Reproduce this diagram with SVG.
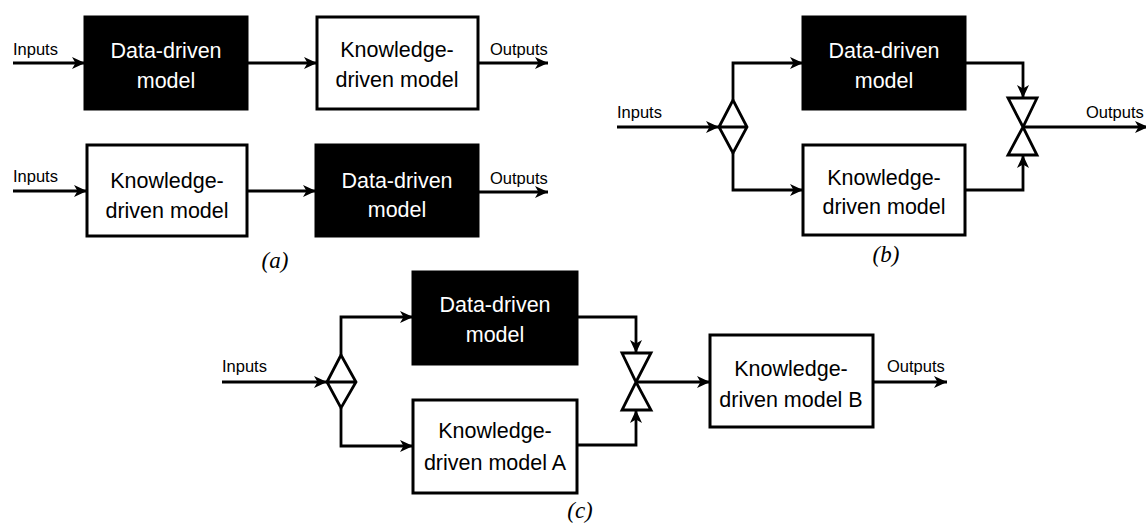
<svg xmlns="http://www.w3.org/2000/svg" width="1146" height="523" viewBox="0 0 1146 523">
<style>
.bg{fill:#fff}
.dk{fill:#000;stroke:#000;stroke-width:3}
.wt{fill:#fff;stroke:#000;stroke-width:3}
.ln{fill:none;stroke:#000;stroke-width:2.8}
.jn{fill:#fff;stroke:#000;stroke-width:2.8;stroke-linejoin:miter}
.tw{font-family:"Liberation Sans",Arial,sans-serif;font-size:21.5px;fill:#fff;text-anchor:middle}
.tb{font-family:"Liberation Sans",Arial,sans-serif;font-size:21.5px;fill:#000;text-anchor:middle}
.lb{font-family:"Liberation Sans",Arial,sans-serif;font-size:16.5px;fill:#000}
.cap{font-family:"Liberation Serif","Times New Roman",serif;font-style:italic;font-size:23px;fill:#000;text-anchor:middle}
</style>
<defs>
<marker id="ah" markerUnits="userSpaceOnUse" markerWidth="14" markerHeight="12" refX="13" refY="6" orient="auto">
<path d="M0,0 L13,6 L0,12 L3.5,6 Z" fill="#000"/>
</marker>
</defs>
<rect class="bg" x="0" y="0" width="1146" height="523"/>

<g id="connectors">
<path class="ln" d="M13,63 H85" marker-end="url(#ah)"/>
<path class="ln" d="M247,63 H317" marker-end="url(#ah)"/>
<path class="ln" d="M478,63 H548" marker-end="url(#ah)"/>
<path class="ln" d="M13,191 H87" marker-end="url(#ah)"/>
<path class="ln" d="M247,191 H316" marker-end="url(#ah)"/>
<path class="ln" d="M478,192 H548" marker-end="url(#ah)"/>
<path class="ln" d="M617,127 H719" marker-end="url(#ah)"/>
<path class="ln" d="M733,100 V63 H803" marker-end="url(#ah)"/>
<path class="ln" d="M733,153 V190 H803" marker-end="url(#ah)"/>
<path class="ln" d="M965,63 H1023 V98" marker-end="url(#ah)"/>
<path class="ln" d="M965,190 H1023 V155" marker-end="url(#ah)"/>
<path class="ln" d="M1023,127 H1148" marker-end="url(#ah)"/>
<path class="ln" d="M222,382 H327" marker-end="url(#ah)"/>
<path class="ln" d="M341,355 V317 H413" marker-end="url(#ah)"/>
<path class="ln" d="M341,408 V446 H413" marker-end="url(#ah)"/>
<path class="ln" d="M577,317 H636 V353" marker-end="url(#ah)"/>
<path class="ln" d="M577,445 H636 V410" marker-end="url(#ah)"/>
<path class="ln" d="M636,382 H710" marker-end="url(#ah)"/>
<path class="ln" d="M873,382 H947" marker-end="url(#ah)"/>
</g>

<g id="split-b">
<path class="jn" d="M719,127 L733,100 L747,127 L733,153 Z M719,127 H747"/>
</g>
<g id="merge-b">
<path class="jn" d="M1008,98 H1037 L1023,127 Z M1008,155 H1037 L1023,127 Z"/>
</g>
<g id="split-c">
<path class="jn" d="M327,382 L341,355 L356,382 L341,408 Z M327,382 H356"/>
</g>
<g id="merge-c">
<path class="jn" d="M622,353 H651 L636,382 Z M622,410 H651 L636,382 Z"/>
</g>

<g id="a-data1">
<rect class="dk" x="85" y="17" width="162" height="92"/>
<text class="tw" x="166" y="58">Data-driven</text>
<text class="tw" x="166" y="88">model</text>
</g>
<g id="a-know1">
<rect class="wt" x="317" y="17" width="161" height="92"/>
<text class="tb" x="397" y="57">Knowledge-</text>
<text class="tb" x="397" y="87">driven model</text>
</g>
<g id="a-know2">
<rect class="wt" x="87" y="145" width="160" height="91"/>
<text class="tb" x="167" y="188">Knowledge-</text>
<text class="tb" x="167" y="218">driven model</text>
</g>
<g id="a-data2">
<rect class="dk" x="316" y="145" width="162" height="91"/>
<text class="tw" x="397" y="188">Data-driven</text>
<text class="tw" x="397" y="217">model</text>
</g>

<g id="b-data">
<rect class="dk" x="803" y="17" width="162" height="92"/>
<text class="tw" x="884" y="58">Data-driven</text>
<text class="tw" x="884" y="88">model</text>
</g>
<g id="b-know">
<rect class="wt" x="803" y="145" width="162" height="90"/>
<text class="tb" x="884" y="185">Knowledge-</text>
<text class="tb" x="884" y="214">driven model</text>
</g>

<g id="c-data">
<rect class="dk" x="413" y="272" width="164" height="92"/>
<text class="tw" x="495" y="312">Data-driven</text>
<text class="tw" x="495" y="342">model</text>
</g>
<g id="c-knowA">
<rect class="wt" x="413" y="400" width="164" height="93"/>
<text class="tb" x="495" y="438">Knowledge-</text>
<text class="tb" x="495" y="470">driven model A</text>
</g>
<g id="c-knowB">
<rect class="wt" x="710" y="335" width="163" height="92"/>
<text class="tb" x="791" y="376">Knowledge-</text>
<text class="tb" x="791" y="407">driven model B</text>
</g>

<g id="labels">
<text class="lb" x="13" y="55">Inputs</text>
<text class="lb" x="490" y="55">Outputs</text>
<text class="lb" x="13" y="182">Inputs</text>
<text class="lb" x="490" y="184">Outputs</text>
<text class="lb" x="617" y="118">Inputs</text>
<text class="lb" x="1086" y="118">Outputs</text>
<text class="lb" x="222" y="372">Inputs</text>
<text class="lb" x="887" y="372">Outputs</text>
<text class="cap" x="275" y="268">(a)</text>
<text class="cap" x="886" y="262">(b)</text>
<text class="cap" x="580" y="518">(c)</text>
</g>
</svg>
